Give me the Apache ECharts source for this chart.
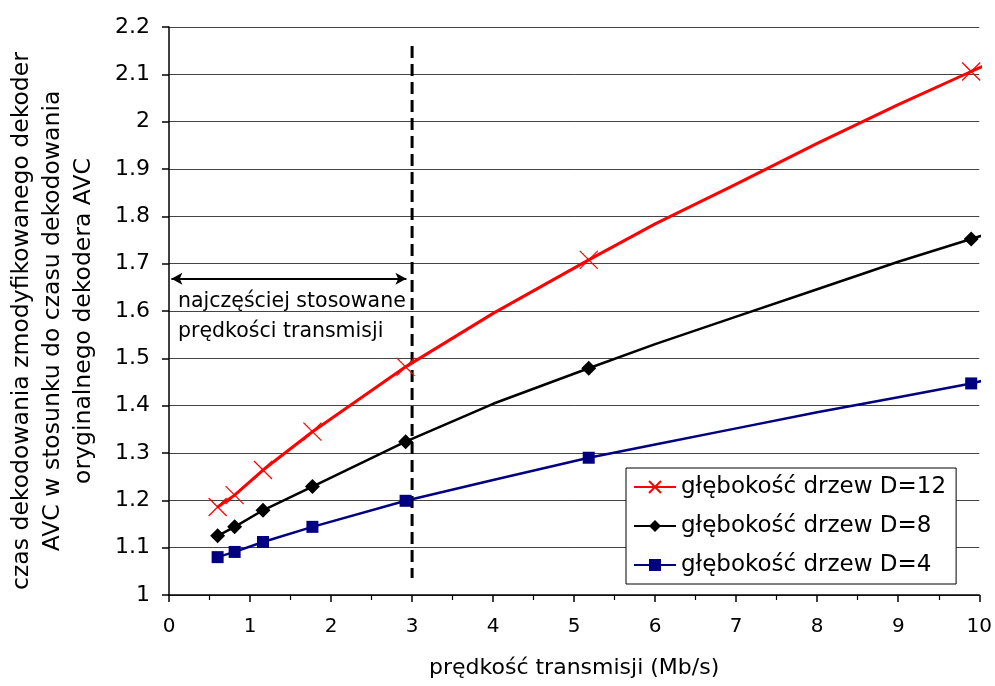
<!DOCTYPE html>
<html>
<head>
<meta charset="utf-8">
<script src="https://cdn.jsdelivr.net/npm/echarts@6/dist/echarts.min.js"></script>
<style>html,body{margin:0;padding:0;background:#fff}#c{width:995px;height:686px}</style>
</head>
<body>
<div id="c"></div>
<script>
// Data
var bitrates = [0.60, 0.81, 1.16, 1.77, 2.92, 4.0, 5.18, 6.0, 7.0, 8.0, 9.0, 9.9, 10.15];
var markerShown = [1, 1, 1, 1, 1, 0, 1, 0, 0, 0, 0, 1, 0];
var depth12 = [1.186, 1.211, 1.264, 1.345, 1.482, 1.595, 1.708, 1.784, 1.868, 1.954, 2.036, 2.106, 2.125];
var depth8  = [1.125, 1.144, 1.179, 1.229, 1.324, 1.404, 1.479, 1.530, 1.588, 1.646, 1.704, 1.752, 1.766];
var depth4  = [1.080, 1.091, 1.112, 1.144, 1.199, 1.243, 1.290, 1.318, 1.352, 1.386, 1.418, 1.447, 1.457];
var seriesNames = ['głębokość drzew D=12', 'głębokość drzew D=8', 'głębokość drzew D=4'];
var limitX = [3, 3];
var limitY = [2.16, 1.036];
var arrowX = [0.03, 2.93];
var arrowY = 1.668;
var noteLines = ['najczęściej stosowane', 'prędkości transmisji'];
var xTitle = 'prędkość transmisji (Mb/s)';
var yTitle = 'czas dekodowania zmodyfikowanego dekoder\nAVC w stosunku do czasu dekodowania\noryginalnego dekodera AVC';

var FONT = 'DejaVu Sans';
function build(ys) {
  return bitrates.map(function (x, i) {
    var d = { value: [x, ys[i]] };
    if (!markerShown[i]) d.symbol = 'none';
    return d;
  });
}

var chart = echarts.init(document.getElementById('c'), null, { renderer: 'canvas' });
chart.setOption({
  animation: false,
  backgroundColor: '#fff',
  grid: { left: 169, right: 15, top: 27, bottom: 91, containLabel: false },
  xAxis: {
    type: 'value', min: 0, max: 10, interval: 1,
    name: xTitle, nameLocation: 'middle', nameGap: 62,
    nameTextStyle: { fontFamily: FONT, fontSize: 22, color: '#000' },
    axisLine: { show: true, onZero: false, lineStyle: { color: '#000', width: 1.5 } },
    axisTick: { show: true, length: 7, lineStyle: { color: '#000', width: 1.5 } },
    minorTick: { show: true, splitNumber: 2, length: 5, lineStyle: { color: '#000', width: 1.2 } },
    splitLine: { show: false },
    axisLabel: { fontFamily: FONT, fontSize: 20, color: '#000', margin: 22 }
  },
  yAxis: {
    type: 'value', min: 1, max: 2.2, interval: 0.1,
    axisLine: { show: true, lineStyle: { color: '#000', width: 1.5 } },
    axisTick: { show: true, length: 7, lineStyle: { color: '#000', width: 1.5 } },
    splitLine: { show: true, lineStyle: { color: '#444', width: 1 } },
    axisLabel: {
      fontFamily: FONT, fontSize: 22, color: '#000', margin: 19,
      formatter: function (v) { return String(parseFloat(v.toFixed(1))); }
    }
  },
  legend: {
    data: seriesNames,
    orient: 'vertical', left: 626, top: 468,
    padding: [7, 10, 7, 7],
    itemWidth: 42, itemHeight: 15, itemGap: 15,
    borderColor: '#000', borderWidth: 1, backgroundColor: '#fff',
    textStyle: { fontFamily: FONT, fontSize: 23, color: '#000', lineHeight: 24 }
  },
  series: [
    {
      name: seriesNames[0], type: 'line', clip: false, z: 5,
      data: build(depth12),
      symbol: 'path://M0,0L10,10M10,0L0,10', symbolSize: 18,
      showAllSymbol: true,
      lineStyle: { color: '#ff0000', width: 3 },
      itemStyle: { color: '#ff0000', borderColor: '#ff0000', borderWidth: 1.2 }
    },
    {
      name: seriesNames[1], type: 'line', clip: false, z: 4,
      data: build(depth8),
      symbol: 'diamond', symbolSize: 15,
      showAllSymbol: true,
      lineStyle: { color: '#000', width: 2.5 },
      itemStyle: { color: '#000' }
    },
    {
      name: seriesNames[2], type: 'line', clip: false, z: 3,
      data: build(depth4),
      symbol: 'rect', symbolSize: 12,
      showAllSymbol: true,
      lineStyle: { color: '#000080', width: 2.5 },
      itemStyle: { color: '#000080' }
    },
    {
      name: 'limit', type: 'line', z: 2,
      data: limitX.map(function (x, i) { return [x, limitY[i]]; }),
      symbol: 'none',
      lineStyle: { color: '#000', width: 3, type: [12, 6] },
      markLine: {
        silent: true, animation: false,
        symbol: ['arrow', 'arrow'], symbolSize: [9, 11],
        label: { show: false },
        lineStyle: { color: '#000', width: 2, type: 'solid' },
        data: [[{ coord: [arrowX[0], arrowY] }, { coord: [arrowX[1], arrowY] }]]
      }
    }
  ],
  graphic: [
    {
      type: 'text', left: 178, top: 287, z: 10,
      style: { text: noteLines.join('\n'), fontFamily: FONT, fontSize: 20.5, lineHeight: 30, fill: '#000' }
    },
    {
      type: 'text', x: 53, y: 321, rotation: Math.PI / 2, z: 10,
      style: {
        text: yTitle, fontFamily: FONT, fontSize: 23.5, lineHeight: 31, fill: '#000',
        align: 'center', verticalAlign: 'middle'
      }
    }
  ]
});
</script>
</body>
</html>
